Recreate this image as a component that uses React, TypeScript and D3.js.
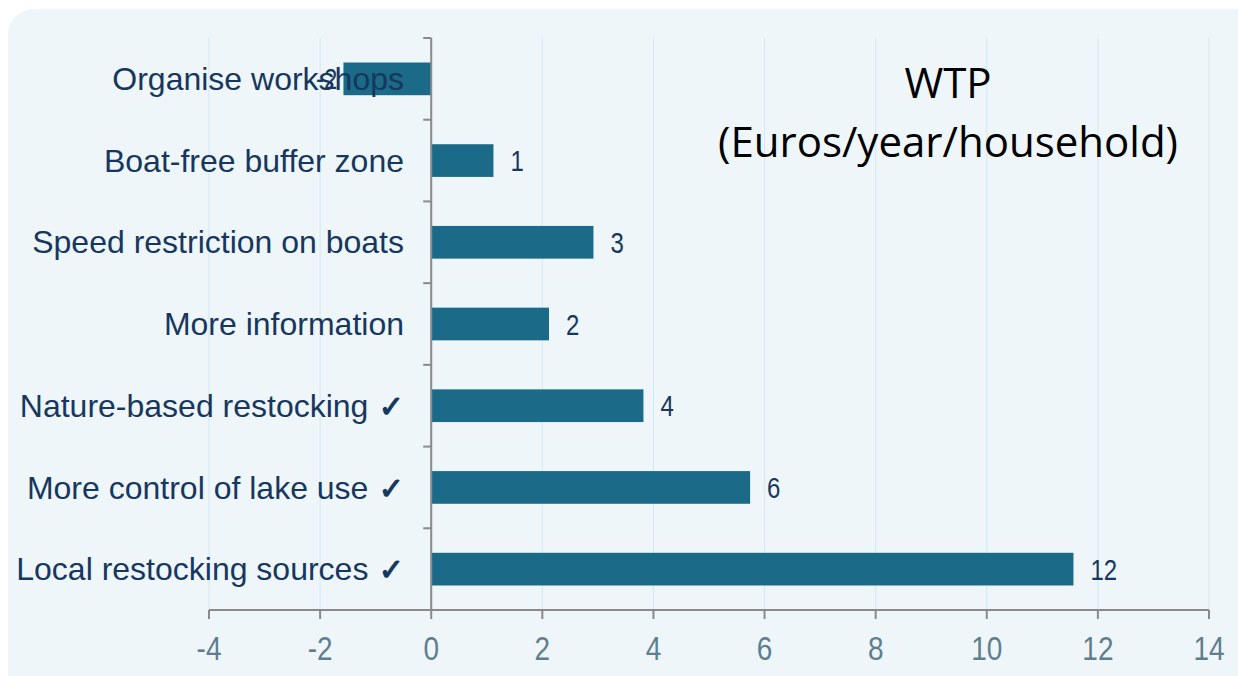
import React from 'react';
import * as d3 from 'd3';

const categories = [
  'Organise workshops',
  'Boat-free buffer zone',
  'Speed restriction on boats',
  'More information',
  'Nature-based restocking ✓',
  'More control of lake use ✓',
  'Local restocking sources ✓',
];
const values = [-1.58, 1.12, 2.92, 2.12, 3.82, 5.74, 11.56];
const valueLabels = ['-2', '1', '3', '2', '4', '6', '12'];
const xTicks = [-4, -2, 0, 2, 4, 6, 8, 10, 12, 14];

const W = 1238;
const H = 676;
const FONT = 'Liberation Sans, Arial, sans-serif';

export default function App() {
  const x = d3.scaleLinear().domain([-4, 14]).range([209, 1209]);
  const y = d3.scaleBand<string>().domain(categories).range([38, 610]).paddingInner(0.6).paddingOuter(0.3);
  const bandEdges = d3.range(categories.length + 1).map(i => 38 + (i * (610 - 38)) / categories.length);
  const x0 = x(0);

  return (
    <svg width={W} height={H} style={{ position: 'absolute', left: 0, top: 0 }}>
      <rect x={8} y={9} width={W + 20} height={H + 20} rx={26} fill="#eef6fa" />
      {xTicks.map(t => (
        <line key={'g' + t} x1={x(t)} x2={x(t)} y1={38} y2={610} stroke="#d2e8f2" strokeWidth={1} />
      ))}
      {categories.map((c, i) => {
        const v = values[i];
        const bx = Math.min(x(v), x0);
        const bw = Math.abs(x(v) - x0);
        const cy = (y(c) as number) + y.bandwidth() / 2;
        const lx = v < 0 ? x(v) - 6 : x(v) + 17;
        return (
          <g key={c}>
            <rect x={bx} y={y(c)} width={bw} height={y.bandwidth()} fill="#1b6a87" />
            <text
              transform={`translate(${lx},${cy}) scale(1,1.25)`}
              dy="0.35em"
              textAnchor={v < 0 ? 'end' : 'start'}
              fontFamily={FONT}
              fontSize={24}
              fill="#17375e"
            >
              {valueLabels[i]}
            </text>
          </g>
        );
      })}
      {categories.map(c => {
        const check = c.endsWith('✓');
        const base = check ? c.slice(0, -2) : c;
        return (
          <text
            key={'l' + c}
            x={404}
            y={(y(c) as number) + y.bandwidth() / 2}
            dy="0.35em"
            textAnchor="end"
            fontFamily={FONT}
            fontSize={32}
            fill="#17375e"
          >
            {base}
            {check && (
              <tspan fontFamily="DejaVu Sans, sans-serif" fontWeight="bold" fontSize={30} stroke="#17375e" strokeWidth={1.2}>
                {' ✓'}
              </tspan>
            )}
          </text>
        );
      })}
      {/* axes */}
      <line x1={x0} x2={x0} y1={38} y2={610} stroke="#8a8a8a" strokeWidth={2} />
      {bandEdges.map((e, i) => (
        <line key={'yt' + i} x1={x0 - 8} x2={x0} y1={e} y2={e} stroke="#8a8a8a" strokeWidth={2} />
      ))}
      <line x1={x(-4)} x2={x(14)} y1={610} y2={610} stroke="#8a8a8a" strokeWidth={2} />
      {xTicks.map(t => (
        <g key={'xt' + t}>
          <line x1={x(t)} x2={x(t)} y1={610} y2={619} stroke="#8a8a8a" strokeWidth={2} />
          <text
            transform={`translate(${x(t)},648) scale(1,1.18)`}
            dy="0.35em"
            textAnchor="middle"
            fontFamily={FONT}
            fontSize={28}
            fill="#5f7e8e"
          >
            {t}
          </text>
        </g>
      ))}
      <text x={948} y={83} dy="0.35em" textAnchor="middle" fontFamily="Open Sans, sans-serif" fontSize={42} fill="#000">
        WTP
      </text>
      <text x={948} y={142} dy="0.35em" textAnchor="middle" fontFamily="Open Sans, sans-serif" fontSize={42} fill="#000">
        (Euros/year/household)
      </text>
    </svg>
  );
}
